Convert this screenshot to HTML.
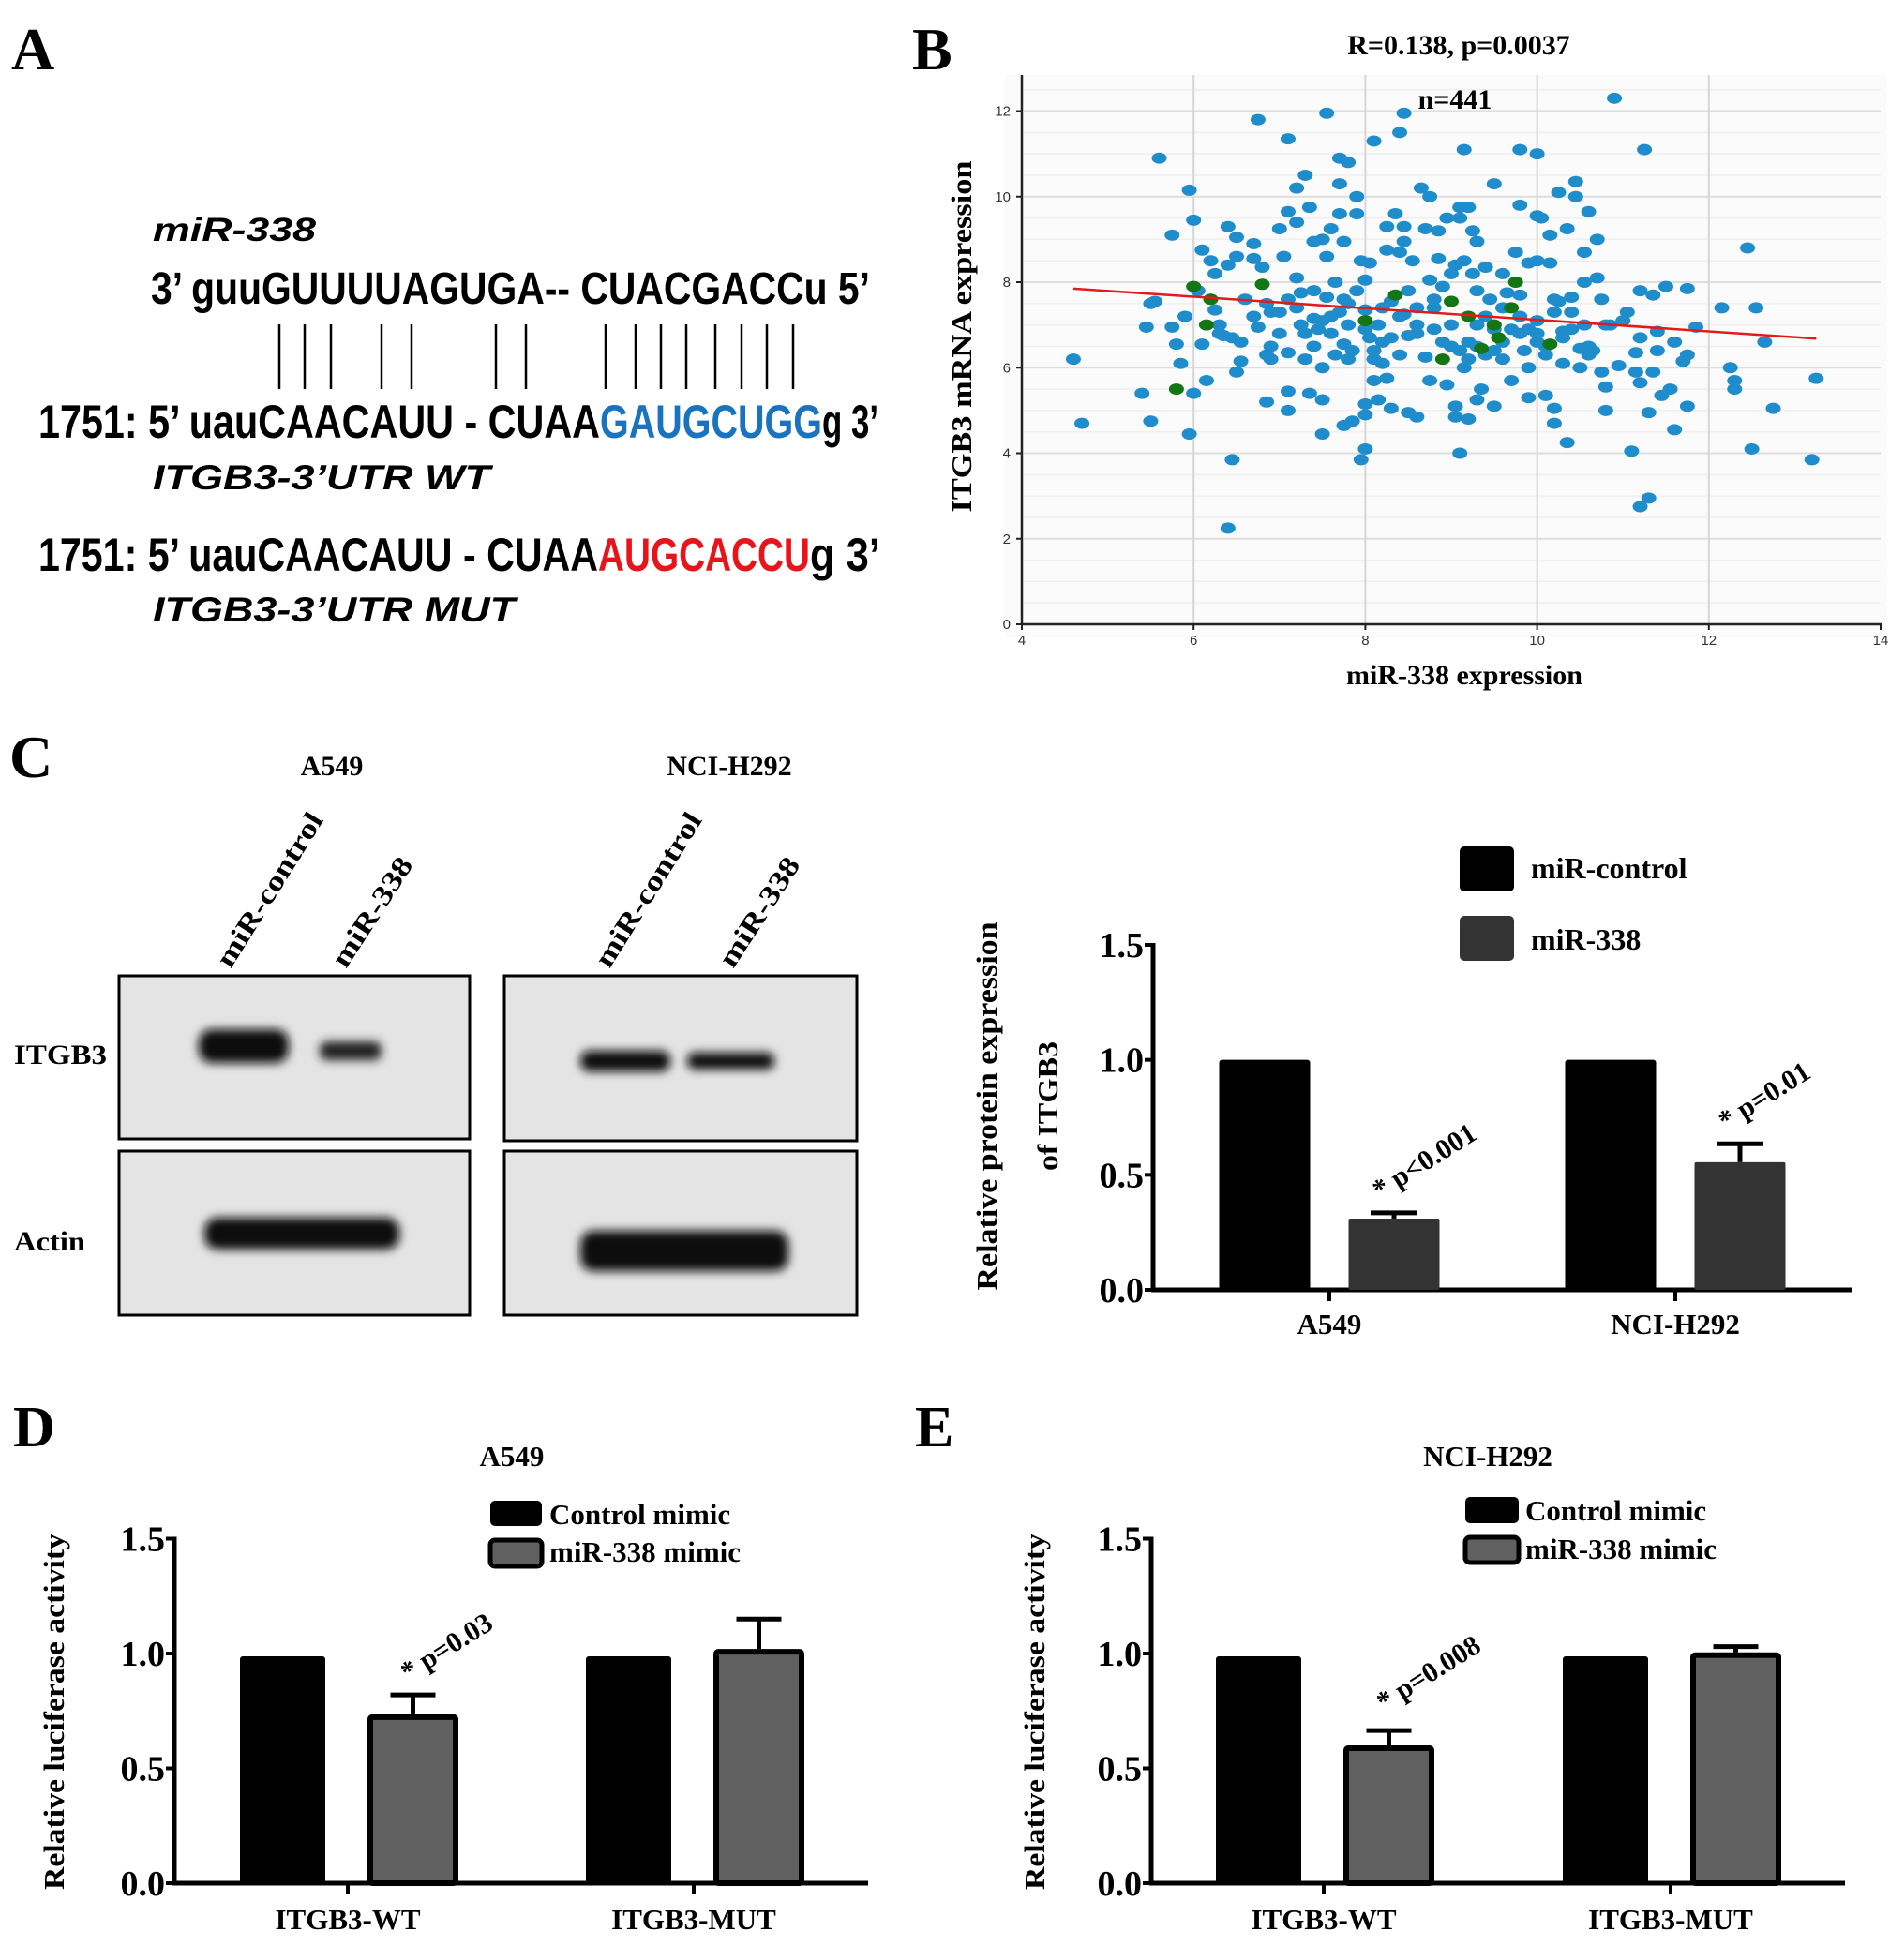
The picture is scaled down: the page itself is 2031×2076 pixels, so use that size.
<!DOCTYPE html>
<html><head><meta charset="utf-8"><style>
html,body{margin:0;padding:0;background:#fff;}
svg{display:block;}
text{font-family:"Liberation Serif",serif;font-weight:bold;fill:#000;}
.sans{font-family:"Liberation Sans",sans-serif;}
</style></head><body>
<svg id="fig" xmlns="http://www.w3.org/2000/svg" width="2031" height="2076" viewBox="0 0 2031 2076">
<rect x="0" y="0" width="2031" height="2076" fill="#fff"/>

<!-- Panel A -->
<g>
<text x="12" y="74" font-size="64">A</text>
<text class="sans" x="163" y="257" font-size="35" font-style="italic" textLength="174" lengthAdjust="spacingAndGlyphs">miR-338</text>
<text class="sans" x="161" y="324" font-size="48" textLength="767" lengthAdjust="spacingAndGlyphs">3’ guuGUUUUAGUGA-- CUACGACCu 5’</text>
<g stroke="#000" stroke-width="2.5">
<line x1="298" y1="346" x2="298" y2="415"/><line x1="325" y1="346" x2="325" y2="415"/><line x1="353" y1="346" x2="353" y2="415"/>
<line x1="407" y1="346" x2="407" y2="415"/><line x1="439" y1="346" x2="439" y2="415"/>
<line x1="529" y1="346" x2="529" y2="415"/><line x1="561" y1="346" x2="561" y2="415"/>
<line x1="646" y1="346" x2="646" y2="415"/><line x1="678" y1="346" x2="678" y2="415"/><line x1="705" y1="346" x2="705" y2="415"/><line x1="732" y1="346" x2="732" y2="415"/><line x1="763" y1="346" x2="763" y2="415"/><line x1="791" y1="346" x2="791" y2="415"/><line x1="818" y1="346" x2="818" y2="415"/><line x1="846" y1="346" x2="846" y2="415"/>
</g>
<text class="sans" x="41" y="467" font-size="50" textLength="599" lengthAdjust="spacingAndGlyphs">1751: 5’ uauCAACAUU - CUAA</text>
<text class="sans" x="640" y="467" font-size="50" style="fill:#1a73bf" textLength="237" lengthAdjust="spacingAndGlyphs">GAUGCUGG</text>
<text class="sans" x="877" y="467" font-size="50" textLength="60" lengthAdjust="spacingAndGlyphs">g 3’</text>
<text class="sans" x="163" y="522" font-size="37" font-style="italic" textLength="360" lengthAdjust="spacingAndGlyphs">ITGB3-3’UTR WT</text>
<text class="sans" x="41" y="609" font-size="50" textLength="597" lengthAdjust="spacingAndGlyphs">1751: 5’ uauCAACAUU - CUAA</text>
<text class="sans" x="638" y="609" font-size="50" style="fill:#e8141b" textLength="226" lengthAdjust="spacingAndGlyphs">AUGCACCU</text>
<text class="sans" x="864" y="609" font-size="50" textLength="75" lengthAdjust="spacingAndGlyphs">g  3’</text>
<text class="sans" x="163" y="663" font-size="37" font-style="italic" textLength="387" lengthAdjust="spacingAndGlyphs">ITGB3-3’UTR MUT</text>
</g>

<!-- Panel B -->
<g id="panelB">
<text x="973" y="74" font-size="64">B</text>
<text x="1556" y="58" font-size="30" text-anchor="middle">R=0.138, p=0.0037</text>
<rect x="1072" y="80" width="940" height="600" fill="#fbfbfb"/>
<g id="bGrid"></g>
<g id="bDots"></g>
<g id="bAxes"></g>
<text x="1552" y="116" font-size="30" text-anchor="middle">n=441</text>
<text transform="translate(1036,359) rotate(-90)" font-size="31" text-anchor="middle" textLength="375" lengthAdjust="spacingAndGlyphs">ITGB3 mRNA expression</text>
<text x="1562" y="730" font-size="30" text-anchor="middle">miR-338 expression</text>
</g>

<!-- Panel C western blot -->
<g>
<text x="10" y="829" font-size="64">C</text>
<text x="354" y="827" font-size="30" text-anchor="middle">A549</text>
<text x="778" y="827" font-size="30" text-anchor="middle">NCI-H292</text>
<text transform="translate(246,1034) rotate(-58)" font-size="30" textLength="188" lengthAdjust="spacingAndGlyphs">miR-control</text>
<text transform="translate(369,1034) rotate(-57)" font-size="30" textLength="133" lengthAdjust="spacingAndGlyphs">miR-338</text>
<text transform="translate(650,1034) rotate(-58)" font-size="30" textLength="188" lengthAdjust="spacingAndGlyphs">miR-control</text>
<text transform="translate(782,1034) rotate(-57)" font-size="30" textLength="133" lengthAdjust="spacingAndGlyphs">miR-338</text>
<text x="15" y="1135" font-size="30" textLength="99" lengthAdjust="spacingAndGlyphs">ITGB3</text>
<text x="15" y="1334" font-size="30" textLength="76" lengthAdjust="spacingAndGlyphs">Actin</text>
<defs><filter id="blur" x="-20%" y="-50%" width="140%" height="200%"><feGaussianBlur stdDeviation="5"/></filter></defs>
<rect x="127" y="1041" width="374" height="174" fill="#e4e4e4" stroke="#000" stroke-width="3"/>
<rect x="538" y="1041" width="376" height="176" fill="#e4e4e4" stroke="#000" stroke-width="3"/>
<rect x="127" y="1228" width="374" height="175" fill="#e4e4e4" stroke="#000" stroke-width="3"/>
<rect x="538" y="1228" width="376" height="175" fill="#e4e4e4" stroke="#000" stroke-width="3"/>
<g filter="url(#blur)" fill="#080808">
<rect x="212" y="1098" width="96" height="36" rx="14"/>
<rect x="341" y="1111" width="66" height="20" rx="8" fill="#222"/>
<rect x="619" y="1121" width="96" height="22" rx="10"/>
<rect x="733" y="1123" width="93" height="18" rx="8"/>
<rect x="218" y="1299" width="208" height="34" rx="14"/>
<rect x="619" y="1313" width="222" height="43" rx="14"/>
</g>
</g>

<g id="panelC"></g>
<g id="panelD"></g>
<g id="panelE"></g>
</svg>

<script>
// ---------- Panel B data ----------
const scatterX = [4.6,4.7,5.4,5.45,5.5,5.55,5.5,5.6,5.75,5.75,5.8,5.85,5.9,5.95,5.95,6.0,6.0,6.05,6.1,6.1,6.15,6.2,6.25,6.25,6.3,6.35,6.4,6.4,6.45,6.45,6.4,6.5,6.5,6.55,6.55,6.5,6.6,6.7,6.7,6.75,6.75,6.8,6.85,6.85,6.9,6.9,6.85,7.0,7.0,7.05,7.1,7.1,7.1,7.1,7.1,7.2,7.2,7.2,7.25,7.3,7.25,7.35,7.3,7.35,7.4,7.4,7.4,7.45,7.5,7.5,7.55,7.5,7.5,7.55,7.55,7.6,7.65,7.65,7.7,7.7,7.7,7.75,7.75,7.75,7.75,7.8,7.8,7.85,7.85,7.9,7.9,7.95,7.95,8.0,8.0,8.0,8.0,8.0,8.05,8.05,8.1,8.1,8.1,8.15,8.15,8.2,8.25,8.25,8.25,8.3,8.3,8.35,8.4,8.4,8.45,8.45,8.45,8.45,8.5,8.5,8.55,8.6,8.6,8.65,8.7,8.7,8.75,8.75,8.75,8.8,8.85,8.85,8.9,8.95,8.95,9.0,9.05,9.05,9.05,9.1,9.1,9.1,9.15,9.15,9.15,9.2,9.2,9.25,9.25,9.3,9.3,9.3,9.3,9.35,9.4,9.45,9.5,9.5,9.5,9.6,9.65,9.7,9.75,9.8,9.8,9.8,9.85,9.9,9.9,9.9,10.0,10.0,10.0,10.0,10.05,10.1,10.1,10.15,10.15,10.2,10.2,10.2,10.25,10.25,10.3,10.3,10.35,10.35,10.4,10.45,10.45,10.5,10.5,10.55,10.55,10.55,10.6,10.6,10.65,10.7,10.7,10.75,10.75,10.8,10.8,10.85,10.9,10.95,11.05,11.1,11.15,11.15,11.2,11.2,11.2,11.2,11.25,11.3,11.3,11.35,11.35,11.4,11.45,11.5,11.55,11.6,11.7,11.75,11.75,11.75,11.85,12.15,12.25,12.3,12.3,12.45,12.5,12.55,12.65,12.75,13.2,13.25,
7.2,7.4,7.6,7.8,8.2,8.4,8.6,8.8,9.0,9.2,9.4,9.6,9.8,10.0,10.2,10.4,8.2,8.4,8.8,9.0,9.4,9.6,7.0,7.8,9.2,9.6,10.0,8.6,8.0,7.6,9.8,10.4,10.8,11.0,7.3,7.9,8.5,9.3,9.9,7.1,7.5,8.3,8.9,9.7,10.3,6.9,7.7,8.1,9.1,9.5,10.1,10.6,6.3,6.7,11.4,11.6];
const scatterY = [6.2,4.7,5.4,6.95,7.5,7.55,4.75,10.9,9.1,6.95,6.55,6.1,7.2,10.15,4.45,5.4,9.45,7.8,8.75,6.55,5.7,8.5,8.2,7.35,6.8,6.75,9.3,8.4,6.7,3.85,2.25,9.05,8.6,6.6,6.15,5.9,7.6,8.55,8.9,11.8,6.95,8.35,7.5,6.3,6.2,6.5,5.2,9.25,7.3,8.6,9.65,11.35,6.35,5.45,5.0,10.2,9.4,8.1,7.75,10.5,7.0,9.75,6.2,5.4,8.95,7.15,6.5,6.9,9.0,5.25,7.65,6.0,4.45,11.95,8.6,9.25,8.0,6.3,10.9,10.3,9.6,8.95,7.6,6.55,4.65,10.8,7.0,6.4,4.75,10.0,9.6,8.5,3.85,8.05,7.35,5.15,4.9,4.1,8.45,6.7,11.3,6.4,5.7,7.0,5.25,6.1,9.3,8.75,5.75,7.55,5.05,9.6,11.5,8.7,11.95,9.3,8.95,7.25,6.75,4.95,8.5,7.0,4.85,10.2,9.25,6.25,10.0,8.05,5.7,7.4,8.55,9.2,7.9,9.5,5.6,6.5,8.4,5.1,4.85,9.75,9.5,4.0,11.1,8.5,6.0,9.75,4.8,9.2,8.2,8.95,7.8,5.25,6.5,5.5,8.35,7.6,10.3,6.9,5.1,7.4,7.75,5.7,8.7,11.1,9.8,7.7,6.4,8.45,6.0,5.3,11.0,9.55,8.5,6.8,9.5,5.35,6.3,9.1,8.45,7.3,5.05,4.7,7.55,10.1,6.1,6.85,9.25,4.25,7.65,10.35,10.0,6.45,6.0,8.7,8.0,7.0,9.65,6.3,6.4,8.1,9.0,7.6,5.9,5.55,5.0,7.0,12.3,6.05,7.3,4.05,6.35,5.9,7.8,6.7,5.65,2.75,11.1,4.95,2.95,7.7,5.9,6.85,5.35,7.9,5.5,4.55,6.15,6.3,5.1,7.85,6.95,7.4,6.0,5.5,5.7,8.8,4.1,7.4,6.6,5.05,3.85,5.75,
7.4,7.8,7.2,7.5,7.4,7.2,6.8,6.9,7.0,6.6,6.3,6.6,6.8,7.1,7.6,7.3,6.6,6.3,7.6,8.2,7.2,8.2,6.8,6.2,6.2,6.2,6.6,7.4,6.9,6.8,7.2,6.9,7.0,7.1,6.8,7.8,7.8,7.0,6.9,7.6,7.1,6.7,6.6,6.9,6.7,7.3,7.3,6.2,6.4,6.4,6.5,6.5,7.0,7.2,6.4,6.6];
const greenX = [5.8,6.0,6.15,6.2,6.8,8.0,8.35,8.9,9.0,9.2,9.35,9.5,9.55,9.7,9.75,10.15];
const greenY = [5.5,7.9,7.0,7.6,7.95,7.1,7.7,6.2,7.55,7.2,6.45,7.0,6.7,7.4,8.0,6.55];
const xTicksB = [4,6,8,10,12,14];
const yTicksB = [0,2,4,6,8,10,12];
const fitLine = [[4.6,7.85],[13.25,6.68]];

const NS = "http://www.w3.org/2000/svg";
function mk(tag, attrs, parent){ const e=document.createElementNS(NS,tag); for(const k in attrs) e.setAttribute(k,attrs[k]); if(parent) parent.appendChild(e); return e; }

const bx = v => 1090 + (v-4)*(2006-1090)/10;
const by = v => 666 - v*(666-118.5)/12;

(function(){
  const g=document.getElementById('bGrid');
  for(let v=0.5; v<=12.5; v+=0.5){
    const major = Math.abs(v%2)<1e-6;
    const l=mk('line',{x1:1092,x2:2006,y1:by(v),y2:by(v),stroke:major?'#dedede':'#efefef','stroke-width':major?2:1.5},g);
    
    
  }
  xTicksB.slice(1,5).forEach(v=>{
    const l=mk('line',{x1:bx(v),x2:bx(v),y1:80,y2:666,stroke:'#d6d6d6','stroke-width':2},g);
    
    
  });
  const d=document.getElementById('bDots');
  for(let i=0;i<Math.min(scatterX.length,scatterY.length);i++){
    const c=mk('ellipse',{cx:bx(scatterX[i]),cy:by(scatterY[i]),rx:8,ry:6,fill:'#1f8dcc'},d);
    
    
  }
  for(let i=0;i<greenX.length;i++){
    const c=mk('ellipse',{cx:bx(greenX[i]),cy:by(greenY[i]),rx:8,ry:6,fill:'#137513'},d);
    
    
  }
  const fl=mk('line',{x1:bx(fitLine[0][0]),y1:by(fitLine[0][1]),x2:bx(fitLine[1][0]),y2:by(fitLine[1][1]),stroke:'#e21a1a','stroke-width':2.5},d);
  
  
  const a=document.getElementById('bAxes');
  const ya=mk('line',{x1:1090,x2:1090,y1:80,y2:667,stroke:'#222','stroke-width':2.5},a);
  
  
  const xa=mk('line',{x1:1089,x2:2008,y1:666,y2:666,stroke:'#222','stroke-width':2.5},a);
  
  
  yTicksB.forEach(v=>{
    mk('line',{x1:1084,x2:1090,y1:by(v),y2:by(v),stroke:'#222','stroke-width':2},a);
    const t=mk('text',{x:1078,y:by(v)+5,'font-size':15,'text-anchor':'end',class:'sans',style:'font-weight:normal;fill:#333'},a);
    t.textContent=v;
    
    
  });
  xTicksB.forEach(v=>{
    mk('line',{x1:bx(v),x2:bx(v),y1:666,y2:672,stroke:'#222','stroke-width':2},a);
    const t=mk('text',{x:bx(v),y:688,'font-size':15,'text-anchor':'middle',class:'sans',style:'font-weight:normal;fill:#333'},a);
    t.textContent=v;
    
    
  });
})();

// ---------- Panel C bar data ----------
const cCategories = ["A549","NCI-H292"];
const cControl = [1.0,1.0];
const cMir = [0.31,0.555];
const cMirErr = [0.025,0.08];
const cPLabels = ["* p<0.001","* p=0.01"];
const cLegend = ["miR-control","miR-338"];
// ---------- Panel D ----------
const dCategories = ["ITGB3-WT","ITGB3-MUT"];
const dControl = [1.0,1.0];
const dMimic = [0.735,1.02];
const dMimicErr = [0.085,0.13];
const dPLabels = ["* p=0.03",""];
// ---------- Panel E ----------
const eCategories = ["ITGB3-WT","ITGB3-MUT"];
const eControl = [1.0,1.0];
const eMimic = [0.60,1.005];
const eMimicErr = [0.065,0.025];
const ePLabels = ["* p=0.008",""];
const mimicLegend = ["Control mimic","miR-338 mimic"];
const barTicks = [0.0,0.5,1.0,1.5];

function barChart(cfg){
  const g=document.getElementById(cfg.id);
  const y = v => cfg.y0 - v*(cfg.y0-cfg.y15)/1.5;
  const ya=mk('line',{x1:cfg.ax,x2:cfg.ax,y1:cfg.y15-2,y2:cfg.y0+2,stroke:'#000','stroke-width':5},g);
  
  
  const xa=mk('line',{x1:cfg.ax-2,x2:cfg.axEnd,y1:cfg.y0,y2:cfg.y0,stroke:'#000','stroke-width':5},g);
  
  
  barTicks.forEach(v=>{
    mk('line',{x1:cfg.ax-9,x2:cfg.ax,y1:y(v),y2:y(v),stroke:'#000','stroke-width':4},g);
    const t=mk('text',{x:cfg.ax-10,y:y(v)+13,'font-size':38,'text-anchor':'end'},g);
    t.textContent=v.toFixed(1);
    
    
  });
  cfg.cats.forEach((c,i)=>{
    const gx=cfg.groupX[i];
    mk('line',{x1:gx,x2:gx,y1:cfg.y0,y2:cfg.y0+12,stroke:'#000','stroke-width':4},g);
    const t=mk('text',{x:gx,y:cfg.labelY,'font-size':31,'text-anchor':'middle'},g);
    t.textContent=c;
    
    
    const bw=cfg.bw, gap=cfg.gap;
    const x1=gx-gap/2-bw, x2=gx+gap/2;
    const sw=cfg.border?6:0;
    const b1=mk('rect',{x:x1+sw/2,y:y(cfg.ctrl[i])+sw/2,width:bw-sw,height:cfg.y0-y(cfg.ctrl[i])-sw/2,fill:'#000',rx:3},g);
    
    
    const eTop=y(cfg.tr[i]+cfg.err[i]);
    mk('line',{x1:x2+bw/2,x2:x2+bw/2,y1:eTop,y2:y(cfg.tr[i]),stroke:'#000','stroke-width':5},g);
    mk('line',{x1:x2+bw/2-cfg.cap,x2:x2+bw/2+cfg.cap,y1:eTop,y2:eTop,stroke:'#000','stroke-width':5},g);
    const b2=mk('rect',{x:x2+sw/2,y:y(cfg.tr[i])+sw/2,width:bw-sw,height:cfg.y0-y(cfg.tr[i])-sw/2,fill:cfg.trFill,stroke:cfg.border?'#000':'none','stroke-width':sw,rx:2},g);
    
    
    if(cfg.p[i]){
      const px=x2+bw/2+cfg.pdx, py=eTop-cfg.pdy;
      const t2=mk('text',{transform:'translate('+px+','+py+') rotate(-32)','font-size':cfg.pfs},g);
      t2.textContent=cfg.p[i];
      
      
    }
  });
  cfg.legend.forEach((s,i)=>{
    const L=cfg.leg[i];
    const r=mk('rect',{x:L[0],y:L[1],width:L[2],height:L[3],rx:5,fill:i===0?'#000':cfg.trFill,stroke:'#000','stroke-width':cfg.border&&i===1?5:0},g);
    
    
    const t=mk('text',{x:L[4],y:L[5],'font-size':cfg.lfs},g);
    t.textContent=s;
    
    
  });
  if(cfg.title){
    const t=mk('text',{x:cfg.title[1],y:cfg.title[2],'font-size':31,'text-anchor':'middle'},g);
    t.textContent=cfg.title[0];
    
    
  }
  cfg.ylab.forEach(l=>{
    const t=mk('text',{transform:'translate('+l[1]+','+l[2]+') rotate(-90)','font-size':31,'text-anchor':'middle',textLength:l[3],lengthAdjust:'spacingAndGlyphs'},g);
    t.textContent=l[0];
    
    
  });
  if(cfg.letter){
    const t=mk('text',{x:cfg.letter[1],y:cfg.letter[2],'font-size':62},g);
    t.textContent=cfg.letter[0];
    
    
  }
}

barChart({id:'panelC',y0:1376,y15:1008,ax:1230,axEnd:1975,cats:cCategories,groupX:[1418,1787],labelY:1423,bw:97,gap:41,
  ctrl:cControl,tr:cMir,err:cMirErr,trFill:'#333',border:false,cap:25,p:cPLabels,pdx:-15,pdy:14,pfs:30,
  legend:cLegend,leg:[[1557,903,58,48,1633,937],[1557,977,58,48,1633,1013]],lfs:32,
  ylab:[["Relative protein expression",1063,1180,393],["of ITGB3",1128,1180,138]]});
barChart({id:'panelD',y0:2009,y15:1641.5,ax:186,axEnd:926,cats:dCategories,groupX:[371,740],labelY:2058,bw:97,gap:42,
  ctrl:dControl,tr:dMimic,err:dMimicErr,trFill:'#606060',border:true,cap:24,p:dPLabels,pdx:-5,pdy:14,pfs:30,
  legend:mimicLegend,leg:[[523,1601,55,27,586,1626],[523,1643,55,28,586,1666]],lfs:31,
  title:["A549",546,1564],ylab:[["Relative luciferase activity",68,1826,380]],letter:["D",14,1543]});
barChart({id:'panelE',y0:2009,y15:1641.5,ax:1228,axEnd:1968,cats:eCategories,groupX:[1412,1782],labelY:2058,bw:97,gap:42,
  ctrl:eControl,tr:eMimic,err:eMimicErr,trFill:'#606060',border:true,cap:24,p:ePLabels,pdx:-5,pdy:20,pfs:30,
  legend:mimicLegend,leg:[[1563,1597,57,28,1627,1622],[1563,1640,57,27,1627,1663]],lfs:31,
  title:["NCI-H292",1587,1564],ylab:[["Relative luciferase activity",1114,1826,380]],letter:["E",976,1543]});
</script>
</body></html>
